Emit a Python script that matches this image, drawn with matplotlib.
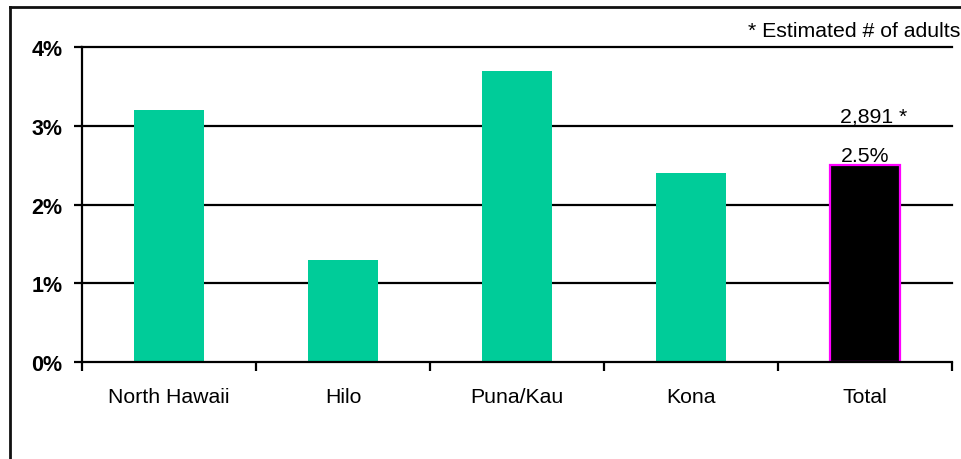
import matplotlib
matplotlib.use("Agg")
import matplotlib.pyplot as plt
from matplotlib.lines import Line2D

categories = ["North Hawaii", "Hilo", "Puna/Kau", "Kona", "Total"]
values = [3.2, 1.3, 3.7, 2.4, 2.5]
total_label = "2.5%"
total_count = "2,891 *"
footnote = "* Estimated # of adults"
yticks = [0, 1, 2, 3, 4]
ytick_labels = ["0%", "1%", "2%", "3%", "4%"]

plt.rcParams['font.family'] = ['Liberation Sans', 'DejaVu Sans']

W, H = 961, 460
fig = plt.figure(figsize=(W / 100, H / 100), dpi=100)
ax = fig.add_axes([82 / W, 1 - 363 / H, (952 - 82) / W, (363 - 48) / H])

x = list(range(len(categories)))
colors = ["#00CC99"] * (len(categories) - 1) + ["#000000"]
edges = ["none"] * (len(categories) - 1) + ["#FF00FF"]
lws = [0] * (len(categories) - 1) + [1.6]
ax.bar(x, values, width=0.4, color=colors, edgecolor=edges, linewidth=lws, zorder=3)

ax.set_xlim(-0.5, len(categories) - 0.5)
ax.set_ylim(0, 4)

for yv in yticks[1:]:
    ax.axhline(yv, color="black", linewidth=1.6, zorder=2, clip_on=False)

ax.set_yticks(yticks)
ax.set_yticklabels(ytick_labels, fontsize=15.5, fontweight="bold")
ax.tick_params(axis="y", length=6, width=1.6, pad=8, direction="out")

ax.set_xticks(x)
ax.set_xticklabels(categories, fontsize=15.3)
ax.tick_params(axis="x", which="major", length=0, pad=18)
ax.set_xticks([i - 0.5 for i in range(len(categories) + 1)], minor=True)
ax.tick_params(axis="x", which="minor", length=6.5, width=1.6, direction="out")

for s in ["top", "right"]:
    ax.spines[s].set_visible(False)
for s in ["left", "bottom"]:
    ax.spines[s].set_linewidth(1.6)
    ax.spines[s].set_zorder(4)

ti = len(categories) - 1
ax.text(ti, values[ti] + 0.05, total_label, ha="center", va="baseline", fontsize=15.3)
ax.text(ti - 0.144, 3.05, total_count, ha="left", va="baseline", fontsize=15.3)

fig.text(960 / W, 1 - 37 / H, footnote, ha="right", va="baseline", fontsize=15.3)

# outer frame (left and top visible)
fig.add_artist(Line2D([10 / W, 10 / W], [0, 1 - 8 / H], transform=fig.transFigure,
                      color="#111111", linewidth=2))
fig.add_artist(Line2D([10 / W, 1], [1 - 8 / H, 1 - 8 / H], transform=fig.transFigure,
                      color="#111111", linewidth=2))

fig.savefig("out.png", dpi=100)
